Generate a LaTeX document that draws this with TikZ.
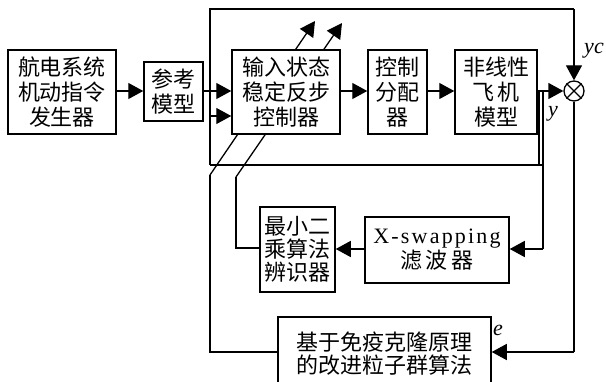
\documentclass[tikz,border=0pt]{standalone}
\usepackage{fontspec}
\setmainfont{Liberation Serif}
\newfontfamily\cjk{Noto Sans CJK SC}
\newfontfamily\lsfont[LetterSpace=10]{Liberation Serif}
\usetikzlibrary{arrows.meta}
\begin{document}
\begin{tikzpicture}[x=1pt,y=-1pt,line width=1.3pt,
  blk/.style={draw,line width=1.5pt,fill=white,inner sep=0pt,align=center,font=\cjk\fontsize{22}{25}\selectfont},
  arr/.style={-{Triangle[length=15pt,width=16pt]}},
  lbl/.style={font=\itshape\fontsize{22}{22}\selectfont,inner sep=0pt}]
\useasboundingbox (0,0) rectangle (606,382);
% diagonal adjustment arrows (behind controller box)
\coordinate (d1s) at (210,175);
\coordinate (d1e) at (315,21);
\coordinate (d2s) at (236,177);
\coordinate (d2e) at (342,23);
\draw[arr] (d1s) -- (d1e);
\draw[arr] (d2s) -- (d2e);
% blocks
\node[blk,minimum width=108pt,minimum height=84pt] (gen) at (62,92) {航电系统\\机动指令\\发生器};
\node[blk,minimum width=59pt,minimum height=59pt] (ref) at (173.5,91.5) {参考\\模型};
\node[blk,minimum width=108pt,minimum height=84pt] (ctl) at (286,92) {输入状态\\稳定反步\\控制器};
\node[blk,minimum width=59pt,minimum height=84pt] (alloc) at (397.5,92) {控制\\分配\\器};
\node[blk,minimum width=82pt,minimum height=84pt] (plant) at (496,92) {非线性\\飞\,机\\模型};
\node[draw,circle,minimum size=20pt,inner sep=0pt] (sum) at (574,91) {};
\draw[line width=1.3pt] (sum.north west) -- (sum.south east) (sum.north east) -- (sum.south west);
\node[blk,minimum width=75pt,minimum height=85pt,font=\cjk\fontsize{22}{23}\selectfont] (ls) at (297.5,249.5) {最小二\\乘算法\\辨识器};
\node[blk,minimum width=144pt,minimum height=66pt] (xs) at (437,250) {{\lsfont X-swapping}\\滤\,波\,器};
\node[blk,minimum width=213pt,minimum height=73pt,font=\cjk\fontsize{22}{23}\selectfont] (pso) at (384.5,353.5) {基于免疫克隆原理\\的改进粒子群算法};
% coordinates
\coordinate (j1) at (210,91);
\coordinate (t1) at (210,9);
\coordinate (t2) at (574,9);
\coordinate (b1) at (210,165);
\coordinate (b2) at (539,165);
\coordinate (b3) at (543,165);
\coordinate (j2) at (210,116);
\coordinate (ya) at (539,91);
\coordinate (yb) at (543,91);
\coordinate (xr) at (543,249);
\coordinate (lsl) at (236,248);
\coordinate (er) at (574,352);
\coordinate (pl) at (210,352);
% connectors
\draw[arr] (gen.east |- 0,91) -- (ref.west |- 0,91);
\draw[arr] (ref.east |- 0,91) -- (ctl.west |- 0,91);
\draw[arr] (ctl.east |- 0,91) -- (alloc.west |- 0,91);
\draw[arr] (alloc.east |- 0,91) -- (plant.west |- 0,91);
\draw[arr] (plant.east |- 0,91) -- (sum.west);
\draw (b1) -- (t1) -- (t2);
\draw[arr] (t2) -- (sum.north);
\draw (b1) -- (b3);
\draw[arr] (j2) -- (ctl.west |- j2);
\draw (ya) -- (b2);
\draw (yb) -- (xr);
\draw[arr] (xr) -- (xs.east |- xr);
\draw[arr] (xs.west |- 0,249) -- (ls.east |- 0,249);
\draw (ls.west |- lsl) -- (lsl) -- (d2s);
\draw (sum.south) -- (er);
\draw[arr] (er) -- (pso.east |- er);
\draw (pso.west |- pl) -- (pl) -- (d1s);
% labels
\node[lbl] at (594,51) {yc};
\node[lbl] at (553,114) {y};
\node[lbl] at (498,330) {e};
\end{tikzpicture}
\end{document}
